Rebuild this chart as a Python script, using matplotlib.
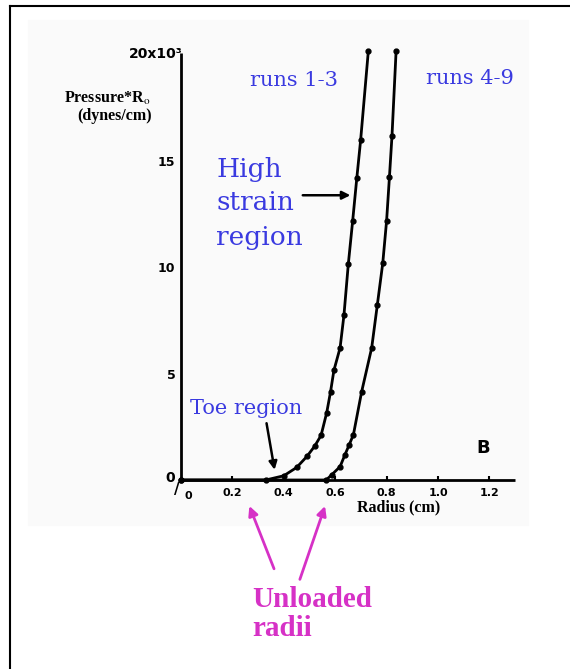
import matplotlib
matplotlib.use("Agg")
import matplotlib.pyplot as plt
from matplotlib.lines import Line2D
from matplotlib.patches import Rectangle

plt.rcParams['mathtext.fontset'] = 'stix'

# radius (cm) and pressure*R0 (x10^3 dynes/cm)
r_runs13 = [0.0, 0.33, 0.40, 0.45, 0.49, 0.52, 0.545, 0.567, 0.582, 0.595, 0.619, 0.634,
            0.651, 0.668, 0.684, 0.699, 0.729]
p_runs13 = [0.0, 0.0, 0.2, 0.59, 1.11, 1.59, 2.1, 3.17, 4.16, 5.16, 6.22, 7.75,
            10.16, 12.2, 14.2, 16.0, 20.2]
r_runs49 = [0.0, 0.565, 0.586, 0.619, 0.638, 0.655, 0.671, 0.703, 0.742, 0.764,
            0.785, 0.8, 0.811, 0.821, 0.837]
p_runs49 = [0.0, 0.0, 0.24, 0.63, 1.19, 1.67, 2.14, 4.16, 6.22, 8.25,
            10.2, 12.2, 14.25, 16.2, 20.2]

x_ticks = [0.2, 0.4, 0.6, 0.8, 1.0, 1.2]
x_ticklabels = ['0.2', '0.4', '0.6', '0.8', '1.0', '1.2']
y_ticks = [5, 10, 15]
y_ticklabels = ['5', '10', '15']

W, H = 570, 669
fig = plt.figure(figsize=(W / 100, H / 100), dpi=100)

# faint grey of the scanned panel
fig.add_artist(Rectangle((28 / W, 1 - 525 / H), 500 / W, 505 / H,
                         transform=fig.transFigure, color='#fafafa', zorder=-5))
# page border (top and left edges)
fig.add_artist(Line2D([10 / W, 1], [1 - 6 / H, 1 - 6 / H], transform=fig.transFigure,
                      color='black', lw=1.5))
fig.add_artist(Line2D([10 / W, 10 / W], [1 - 6 / H, 0], transform=fig.transFigure,
                      color='black', lw=1.5))

x0_px, y0_px = 181, 480
sx, sy = 257, 21.25
ax = fig.add_axes([x0_px / W, 1 - y0_px / H, 1.3 * sx / W, 20.1 * sy / H])
ax.set_xlim(0, 1.3)
ax.set_ylim(0, 20.1)
ax.patch.set_alpha(0)
for s in ['top', 'right']:
    ax.spines[s].set_visible(False)
for s in ['left', 'bottom']:
    ax.spines[s].set_linewidth(2)
    ax.spines[s].set_capstyle('butt')

ax.plot(r_runs13, p_runs13, '-o', color='black', lw=2, ms=3.5, clip_on=False, zorder=3)
ax.plot(r_runs49, p_runs49, '-o', color='black', lw=2, ms=3.5, clip_on=False, zorder=3)

ax.set_xticks(x_ticks)
ax.set_xticklabels(x_ticklabels, fontsize=8, fontweight='bold')
ax.set_yticks(y_ticks)
ax.set_yticklabels(y_ticklabels, fontsize=9, fontweight='bold')
ax.tick_params(axis='x', direction='in', length=3, width=1.5, pad=6)
ax.tick_params(axis='y', direction='in', length=0, pad=4)

# origin "0 / 0" and the top label of the y axis
ax.text(-0.025, 0.1, '0', fontsize=10, fontweight='bold', ha='right', va='center')
ax.text(0.012, -0.75, '0', fontsize=8, fontweight='bold', ha='left', va='center')
ax.text(-0.015, -0.45, '/', fontsize=11, fontweight='bold', ha='center', va='center')
ax.text(0.008, 20.05, '20x10³', fontsize=10, fontweight='bold', ha='right', va='center')
ax.text(1.175, 1.5, 'B', fontsize=13, fontweight='bold', ha='center', va='center')

serif = 'Liberation Serif'
fig.text(64 / W, 1 - 98 / H, r'Pressure*R$_{\rm o}$', family=serif, fontsize=11.5,
         fontweight='bold', ha='left', va='center')
fig.text(77 / W, 1 - 116 / H, '(dynes/cm)', family=serif, fontsize=11.5,
         fontweight='bold', ha='left', va='center')
fig.text(357 / W, 1 - 507 / H, 'Radius (cm)', family=serif, fontsize=11.5,
         fontweight='bold', ha='left', va='center')

blue = '#3a3ae0'
fig.text(294 / W, 1 - 80 / H, 'runs 1-3', family='DejaVu Serif', fontsize=15,
         color=blue, ha='center', va='center')
fig.text(470 / W, 1 - 78 / H, 'runs 4-9', family='DejaVu Serif', fontsize=15,
         color=blue, ha='center', va='center')
fig.text(216 / W, 1 - 203 / H, 'High\nstrain\nregion', family='DejaVu Serif',
         fontsize=19, color=blue, ha='left', va='center', linespacing=1.45)
fig.text(190 / W, 1 - 408 / H, 'Toe region', family='DejaVu Serif', fontsize=15,
         color=blue, ha='left', va='center')

arrow = dict(arrowstyle='-|>', color='black', lw=1.8, mutation_scale=12)
ax.annotate('', xy=(0.67, 13.4), xytext=(0.463, 13.4), arrowprops=arrow,
            annotation_clip=False)
ax.annotate('', xy=(0.366, 0.35), xytext=(0.331, 2.8), arrowprops=arrow,
            annotation_clip=False)

magenta = '#d631c6'
marrow = dict(arrowstyle='-|>', color=magenta, lw=2, mutation_scale=14)
ax.annotate('', xy=(0.262, -1.1), xytext=(0.366, -4.3), arrowprops=marrow,
            annotation_clip=False)
ax.annotate('', xy=(0.564, -1.1), xytext=(0.459, -4.8), arrowprops=marrow,
            annotation_clip=False)
fig.text(252 / W, 1 - 614 / H, 'Unloaded\nradii', family=serif, fontsize=21,
         fontweight='bold', color=magenta, ha='left', va='center', linespacing=1.1)

fig.savefig('out.png', dpi=100)
